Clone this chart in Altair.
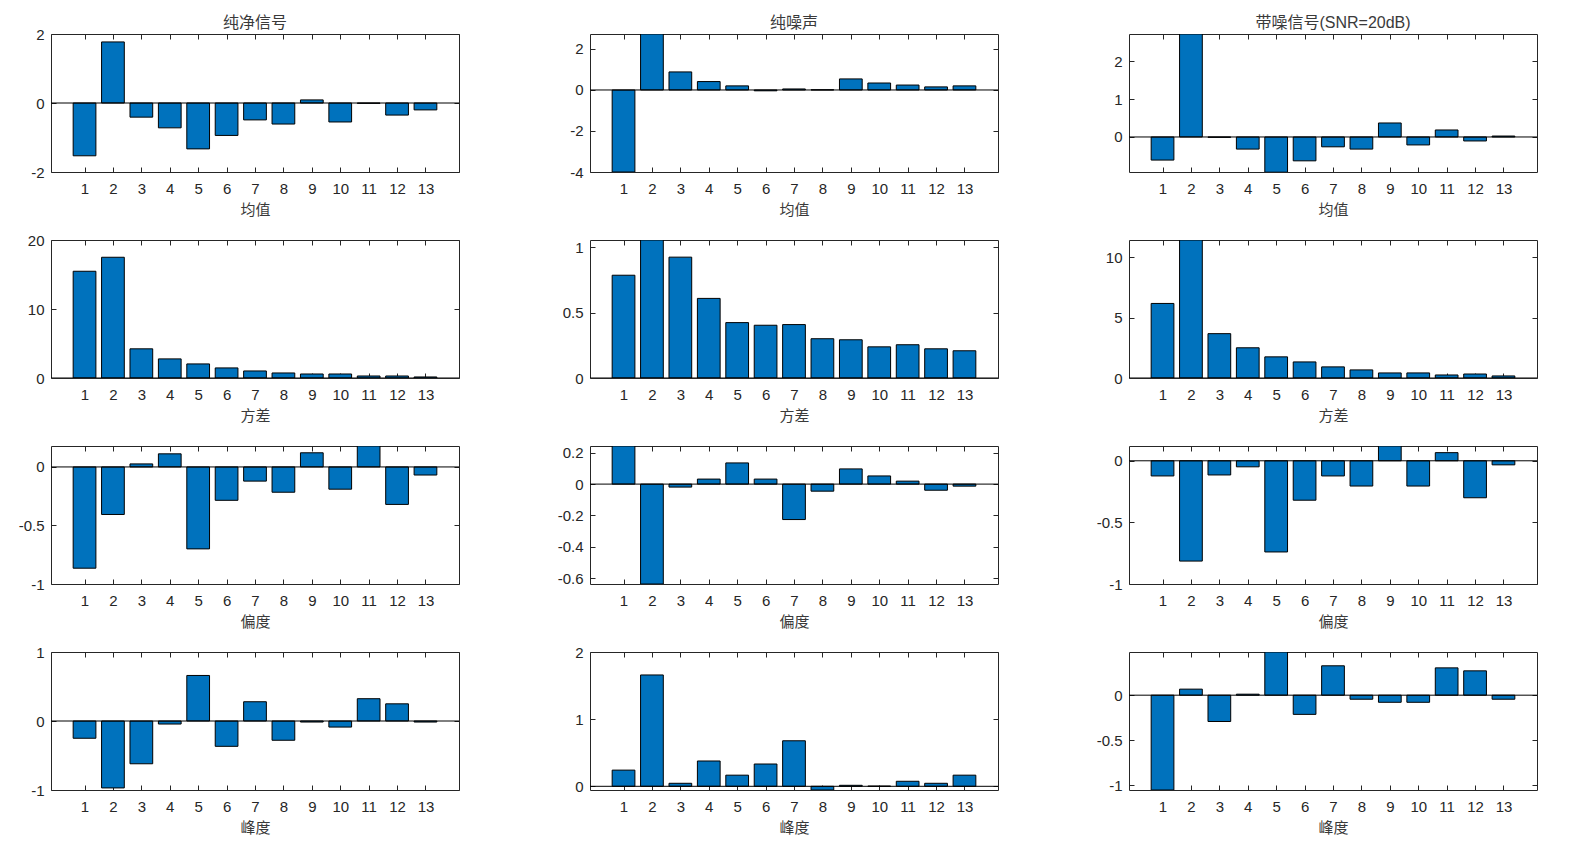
import altair as alt
import pandas as pd

# ---------------- data ----------------
idx = list(range(1, 14))

col_titles = ["纯净信号", "纯噪声", "带噪信号(SNR=20dB)"]
row_titles = ["均值", "方差", "偏度", "峰度"]

# 均值 (mean)
clean_mean = [-1.53, 1.77, -0.41, -0.72, -1.33, -0.94, -0.49, -0.61, 0.09, -0.55, -0.01, -0.35, -0.20]
noise_mean = [-4.0, 2.73, 0.88, 0.41, 0.20, -0.04, 0.05, 0.01, 0.54, 0.34, 0.24, 0.15, 0.20]
noisy_mean = [-0.61, 2.72, -0.01, -0.32, -0.93, -0.63, -0.26, -0.32, 0.37, -0.21, 0.185, -0.105, 0.025]

# 方差 (variance)
clean_var = [15.47, 17.5, 4.23, 2.77, 2.04, 1.46, 1.02, 0.73, 0.58, 0.58, 0.29, 0.29, 0.15]
noise_var = [0.785, 1.054, 0.923, 0.608, 0.423, 0.403, 0.408, 0.30, 0.292, 0.238, 0.254, 0.223, 0.208]
noisy_var = [6.17, 11.42, 3.67, 2.5, 1.75, 1.33, 0.92, 0.67, 0.42, 0.42, 0.25, 0.33, 0.17]

# 偏度 (skewness)
clean_skew = [-0.865, -0.406, 0.026, 0.112, -0.70, -0.285, -0.121, -0.216, 0.121, -0.19, 0.179, -0.32, -0.069]
noise_skew = [0.243, -0.637, -0.019, 0.032, 0.135, 0.032, -0.226, -0.045, 0.097, 0.052, 0.019, -0.039, -0.013]
noisy_skew = [-0.123, -0.814, -0.115, -0.049, -0.74, -0.32, -0.123, -0.205, 0.12, -0.205, 0.066, -0.30, -0.033]

# 峰度 (kurtosis)
clean_kurt = [-0.25, -0.97, -0.62, -0.044, 0.66, -0.367, 0.279, -0.279, -0.015, -0.088, 0.323, 0.249, -0.015]
noise_kurt = [0.241, 1.658, 0.045, 0.377, 0.166, 0.332, 0.678, -0.055, 0.015, 0.003, 0.075, 0.045, 0.166]
noisy_kurt = [-1.052, 0.067, -0.292, 0.011, 0.479, -0.213, 0.326, -0.045, -0.079, -0.079, 0.303, 0.27, -0.045]

grid_values = [
    [clean_mean, noise_mean, noisy_mean],
    [clean_var, noise_var, noisy_var],
    [clean_skew, noise_skew, noisy_skew],
    [clean_kurt, noise_kurt, noisy_kurt],
]

y_domains = [
    [[-2, 2], [-4, 2.73], [-0.925, 2.72]],
    [[0, 20], [0, 1.054], [0, 11.42]],
    [[-1, 0.179], [-0.637, 0.243], [-1, 0.12]],
    [[-1, 1], [-0.055, 2], [-1.052, 0.479]],
]
y_ticks = [
    [[-2, 0, 2], [-4, -2, 0, 2], [0, 1, 2]],
    [[0, 10, 20], [0, 0.5, 1], [0, 5, 10]],
    [[-1, -0.5, 0], [-0.6, -0.4, -0.2, 0, 0.2], [-1, -0.5, 0]],
    [[-1, 0, 1], [0, 1, 2], [-1, -0.5, 0]],
]

# title offsets: column 1 has a tick label at the very top edge, which
# pushes Vega's title upward, so it gets a smaller offset
title_offsets = [-4, 3, 3]

X_DOMAIN = [-0.18, 14.18]
LATIN = "Liberation Sans"
CJK = "Liberation Sans, Noto Sans CJK SC"
INK = "#262626"
SOFT = "#3a3a3a"
BAR = "#0072BD"

W, H = 408, 138


def panel(values, ydom, yticks, xtitle, title=None, toff=3):
    df = pd.DataFrame({"k": idx, "v": values})
    base = alt.Chart(df).transform_calculate(x0="datum.k - 0.4", x1="datum.k + 0.4")
    xs = alt.Scale(domain=X_DOMAIN, nice=False, zero=False)
    ys = alt.Scale(domain=ydom, nice=False, zero=False)

    bars = base.mark_bar(color=BAR, stroke="black", strokeWidth=1, clip=True).encode(
        x=alt.X("x0:Q", scale=xs, axis=alt.Axis(
            orient="bottom", values=idx, offset=-5, tickSize=5, labelPadding=9,
            domain=False, grid=False, title=xtitle, labelOverlap=False,
            labelFlush=False, labelExpr="'' + datum.value", titlePadding=6)),
        x2="x1:Q",
        y=alt.Y("v:Q", scale=ys, axis=alt.Axis(
            orient="left", values=yticks, offset=-5, tickSize=5, labelPadding=7,
            domain=False, grid=False, title=None, labelOverlap=False,
            labelFlush=False, labelExpr="'' + datum.value")),
        y2=alt.datum(0),
    )
    ghost = base.mark_bar(opacity=0, clip=True).encode(
        x=alt.X("x0:Q", scale=xs, axis=alt.Axis(
            orient="top", values=idx, offset=-5, tickSize=5, labels=False,
            domain=False, grid=False, title=None)),
        x2="x1:Q",
        y=alt.Y("v:Q", scale=ys, axis=alt.Axis(
            orient="right", values=yticks, offset=-5, tickSize=5, labels=False,
            domain=False, grid=False, title=None)),
        y2=alt.datum(0),
    )
    zero = alt.Chart(pd.DataFrame({"z": [0]})).mark_rule(
        color="black", strokeWidth=1, clip=True
    ).encode(y=alt.Y("z:Q", scale=ys, axis=None))
    ch = alt.layer(bars, ghost, zero).resolve_axis(x="independent", y="independent")
    props = dict(width=W, height=H)
    if title is not None:
        props["title"] = alt.TitleParams(
            title, fontSize=16, font=CJK, fontWeight="normal", color=SOFT,
            offset=toff, frame="group"
        )
    return ch.properties(**props)


panels = []
for r in range(4):
    for c in range(3):
        panels.append(
            panel(
                grid_values[r][c],
                y_domains[r][c],
                y_ticks[r][c],
                row_titles[r],
                col_titles[c] if r == 0 else None,
                title_offsets[c],
            )
        )

chart = alt.concat(
    *panels, columns=3, spacing={"row": 68, "column": 131}, bounds="flush"
).properties(
    padding={"left": 9, "top": 6, "right": 5, "bottom": 5},
    background="white",
).configure_view(
    stroke=INK, strokeWidth=1
).configure_axis(
    labelFont=LATIN, labelFontSize=15, labelColor=INK,
    tickColor=INK, tickWidth=1,
    titleFont=CJK, titleFontSize=15, titleFontWeight="normal", titleColor=SOFT,
)

chart.save("out.html", embed_options={"renderer": "svg", "actions": False})
